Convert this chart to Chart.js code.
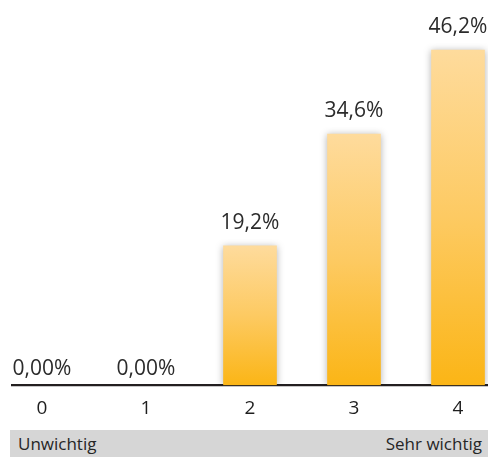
<!DOCTYPE html>
<html>
<head>
<meta charset="utf-8">
<script src="https://cdn.jsdelivr.net/npm/chart.js@4/dist/chart.umd.min.js"></script>
<style>
  html, body { margin: 0; padding: 0; width: 488px; height: 457px; overflow: hidden; background: #ffffff; }
  #wrap { position: absolute; left: -10px; top: 0; width: 520px; height: 432px; }
  #band { position: absolute; left: 10px; top: 430px; width: 478px; height: 27px; background: #d6d6d6;
          font-family: "Open Sans", sans-serif; font-size: 17px; color: #262626; }
  #band .l { position: absolute; left: 8px; top: 2px; }
  #band .r { position: absolute; right: 6px; top: 2px; }
</style>
</head>
<body>
<div id="wrap"><canvas id="c"></canvas></div>
<div id="band"><span class="l">Unwichtig</span><span class="r">Sehr wichtig</span></div>
<script>
const categories = ["0", "1", "2", "3", "4"];
const values = [0, 0, 19.2, 34.6, 46.2];
const valueLabels = ["0,00%", "0,00%", "19,2%", "34,6%", "46,2%"];
const scaleLabels = ["Unwichtig", "Sehr wichtig"];

document.querySelector('#band .l').textContent = scaleLabels[0];
document.querySelector('#band .r').textContent = scaleLabels[1];

function barGradient(ctx) {
  const chart = ctx.chart;
  const yScale = chart.scales.y;
  const v = ctx.parsed ? ctx.parsed.y : values[ctx.dataIndex];
  if (!v) return 'rgba(0,0,0,0)';
  if (!chart.chartArea || !yScale) return '#fcc64a';
  const top = yScale.getPixelForValue(v);
  const bottom = yScale.getPixelForValue(0);
  if (!isFinite(top) || !isFinite(bottom) || Math.abs(bottom - top) < 1) return 'rgba(0,0,0,0)';
  const g = chart.ctx.createLinearGradient(0, top, 0, bottom);
  g.addColorStop(0, '#fedb9c');
  g.addColorStop(0.5, '#fdca62');
  g.addColorStop(1, '#fbb516');
  return g;
}

const baselinePlugin = {
  id: 'baseline',
  beforeDatasetsDraw(chart) {
    const c = chart.ctx;
    const y = chart.scales.y.getPixelForValue(0);
    c.save();
    c.strokeStyle = '#231f20';
    c.lineWidth = 2.2;
    c.beginPath();
    c.moveTo(21, y);
    c.lineTo(chart.width, y);
    c.stroke();
    c.restore();
  }
};

const shadowPlugin = {
  id: 'barShadow',
  beforeDatasetsDraw(chart) {
    const c = chart.ctx;
    c.save();
    c.shadowColor = 'rgba(0,0,0,0.30)';
    c.shadowBlur = 7;
    c.shadowOffsetX = 0;
    c.shadowOffsetY = 0;
  },
  afterDatasetsDraw(chart) {
    chart.ctx.restore();
  }
};

const labelPlugin = {
  id: 'valueLabels',
  afterDatasetsDraw(chart) {
    const c = chart.ctx;
    const meta = chart.getDatasetMeta(0);
    c.save();
    c.font = '21px "Open Sans", sans-serif';
    c.fillStyle = '#2b2b2b';
    c.textAlign = 'center';
    c.textBaseline = 'alphabetic';
    meta.data.forEach((bar, i) => {
      const gap = values[i] > 0 ? 17 : 10;
      c.fillText(valueLabels[i], bar.x, bar.y - gap);
    });
    c.restore();
  }
};

new Chart(document.getElementById('c'), {
  type: 'bar',
  data: {
    labels: categories,
    datasets: [{
      data: values,
      backgroundColor: barGradient,
      borderWidth: 0,
      barThickness: 53
    }]
  },
  options: {
    responsive: true,
    maintainAspectRatio: false,
    animation: false,
    layout: { padding: { top: 0, bottom: 0, left: 0, right: 0 } },
    plugins: { legend: { display: false }, tooltip: { enabled: false } },
    scales: {
      x: {
        grid: { display: false, drawTicks: false },
        border: { display: false },
        ticks: { color: '#1e1e1e', font: { family: '"Open Sans", sans-serif', size: 19 }, padding: 12 }
      },
      y: {
        display: false,
        min: 0,
        max: 53.1
      }
    }
  },
  plugins: [baselinePlugin, shadowPlugin, labelPlugin]
});
</script>
</body>
</html>
